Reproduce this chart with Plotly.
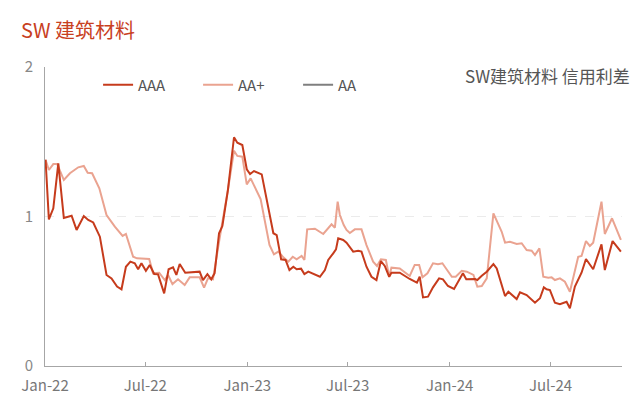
import plotly.graph_objects as go

# ---- data ----
aaa_dates = ["2022-01-02","2022-01-08","2022-01-16","2022-01-25","2022-02-04","2022-02-18","2022-02-27","2022-03-12","2022-03-20","2022-03-29",
             "2022-04-10","2022-04-22","2022-05-01","2022-05-11","2022-05-19","2022-05-27","2022-06-04","2022-06-12","2022-06-18","2022-06-24",
             "2022-07-02","2022-07-09","2022-07-17","2022-07-24","2022-08-04","2022-08-12","2022-08-20","2022-08-26","2022-09-01","2022-09-11",
             "2022-10-07","2022-10-13","2022-10-21","2022-10-28","2022-11-03","2022-11-11","2022-11-17","2022-11-27","2022-12-08","2022-12-14",
             "2022-12-23","2022-12-31","2023-01-06","2023-01-13","2023-01-27","2023-02-10","2023-02-17","2023-02-23","2023-03-03","2023-03-11",
             "2023-03-18","2023-03-25","2023-03-31","2023-04-08","2023-04-14","2023-04-21","2023-05-03","2023-05-12","2023-05-21","2023-05-27",
             "2023-06-05","2023-06-10","2023-06-14","2023-06-23","2023-06-29","2023-07-05","2023-07-11","2023-07-20","2023-07-26","2023-08-04",
             "2023-08-13","2023-08-22","2023-08-30","2023-09-06","2023-09-14","2023-09-18","2023-10-03","2023-10-21","2023-11-03","2023-11-08",
             "2023-11-14","2023-11-23","2023-12-02","2023-12-13","2023-12-20","2023-12-29","2024-01-09","2024-01-25","2024-01-31","2024-02-16",
             "2024-02-20","2024-02-28","2024-03-08","2024-03-20","2024-03-26","2024-04-10","2024-04-16","2024-05-01","2024-05-07","2024-05-19",
             "2024-06-03","2024-06-12","2024-06-19","2024-06-24","2024-06-30","2024-07-09","2024-07-18","2024-07-30","2024-08-05","2024-08-14",
             "2024-08-26","2024-09-03","2024-09-16","2024-10-01","2024-10-07","2024-10-21","2024-11-05"]
aaa_values = [1.38,0.98,1.055,1.356,0.99,1.005,0.91,1.003,0.977,0.96,
              0.865,0.609,0.586,0.531,0.513,0.664,0.698,0.687,0.647,0.687,
              0.637,0.676,0.615,0.613,0.486,0.647,0.66,0.609,0.682,0.624,
              0.631,0.575,0.615,0.58,0.62,0.888,0.936,1.177,1.53,1.494,
              1.478,1.316,1.284,1.304,1.282,1.021,0.888,0.876,0.714,0.709,
              0.642,0.664,0.647,0.651,0.615,0.631,0.609,0.597,0.642,0.709,
              0.754,0.78,0.854,0.843,0.825,0.798,0.765,0.771,0.765,0.664,
              0.597,0.575,0.702,0.669,0.597,0.624,0.624,0.582,0.557,0.597,
              0.459,0.464,0.526,0.586,0.58,0.535,0.515,0.62,0.58,0.582,
              0.575,0.604,0.631,0.682,0.653,0.468,0.497,0.448,0.493,0.475,
              0.423,0.453,0.526,0.513,0.508,0.423,0.413,0.43,0.386,0.531,
              0.624,0.716,0.647,0.814,0.642,0.836,0.765]

aap_dates = ["2022-01-02","2022-01-08","2022-01-16","2022-01-23","2022-02-04","2022-02-15","2022-03-02","2022-03-12","2022-03-19","2022-03-27",
             "2022-04-09","2022-04-22","2022-05-07","2022-05-21","2022-05-27","2022-06-09","2022-06-16","2022-07-08","2022-07-15","2022-07-26",
             "2022-08-05","2022-08-11","2022-08-19","2022-08-29","2022-09-10","2022-09-19","2022-10-07","2022-10-15","2022-10-22","2022-10-31",
             "2022-11-12","2022-11-18","2022-11-27","2022-12-08","2022-12-14","2022-12-23","2022-12-31","2023-01-07","2023-01-25","2023-02-10",
             "2023-02-18","2023-02-26","2023-03-07","2023-03-16","2023-03-24","2023-03-31","2023-04-09","2023-04-14","2023-04-19","2023-05-03",
             "2023-05-18","2023-06-02","2023-06-08","2023-06-13","2023-06-17","2023-06-24","2023-06-29","2023-07-05","2023-07-14","2023-07-26",
             "2023-08-04","2023-08-16","2023-08-23","2023-08-30","2023-09-08","2023-09-14","2023-09-18","2023-10-03","2023-10-21","2023-10-30",
             "2023-11-07","2023-11-13","2023-11-22","2023-12-02","2023-12-11","2023-12-19","2023-12-26","2024-01-05","2024-01-12","2024-01-23",
             "2024-02-01","2024-02-13","2024-02-20","2024-02-28","2024-03-08","2024-03-20","2024-04-04","2024-04-10","2024-04-19","2024-05-01",
             "2024-05-10","2024-05-19","2024-05-28","2024-06-03","2024-06-11","2024-06-18","2024-06-27","2024-07-03","2024-07-09","2024-07-18",
             "2024-07-27","2024-08-05","2024-08-20","2024-08-26","2024-09-03","2024-09-10","2024-09-16","2024-10-01","2024-10-07","2024-10-20",
             "2024-11-05"]
aap_values = [1.38,1.311,1.351,1.351,1.244,1.289,1.329,1.338,1.293,1.289,
              1.189,1.01,0.932,0.87,0.883,0.731,0.72,0.716,0.62,0.624,
              0.575,0.609,0.548,0.58,0.542,0.593,0.593,0.524,0.586,0.58,
              0.854,0.977,1.177,1.44,1.405,1.40,1.215,1.255,1.117,0.809,
              0.747,0.765,0.727,0.698,0.731,0.714,0.736,0.709,0.914,0.918,
              0.883,0.948,0.925,1.099,1.01,0.943,0.91,0.89,0.914,0.914,
              0.809,0.698,0.669,0.714,0.709,0.597,0.658,0.653,0.602,0.676,
              0.676,0.593,0.62,0.687,0.68,0.687,0.647,0.597,0.597,0.637,
              0.631,0.609,0.531,0.535,0.586,1.021,0.898,0.825,0.831,0.816,
              0.821,0.776,0.771,0.742,0.787,0.597,0.591,0.593,0.575,0.586,
              0.564,0.497,0.731,0.736,0.836,0.803,0.825,1.099,0.883,0.988,
              0.843]

# AA series has no visible data in the reference (legend entry only)
aa_dates = ["2022-01-02"]
aa_values = [None]

tick_dates = ["2022-01-01","2022-07-01","2023-01-01","2023-07-01","2024-01-01","2024-07-01"]
tick_labels = ["Jan-22","Jul-22","Jan-23","Jul-23","Jan-24","Jul-24"]

FONT = "Noto Sans CJK SC"
C_AAA = "#C63B1C"
C_AAP = "#EAA390"
C_AA = "#7F7F7F"

fig = go.Figure()
fig.add_trace(go.Scatter(x=aap_dates, y=aap_values, name="AA+", mode="lines", legendrank=2,
                         line=dict(color=C_AAP, width=2)))
fig.add_trace(go.Scatter(x=aaa_dates, y=aaa_values, name="AAA", mode="lines", legendrank=1,
                         line=dict(color=C_AAA, width=2)))
fig.add_trace(go.Scatter(x=aa_dates, y=aa_values, name="AA", mode="lines", legendrank=3,
                         line=dict(color=C_AA, width=2)))

fig.update_layout(
    width=640, height=399,
    margin=dict(l=45, r=18, t=67, b=33, autoexpand=False),
    paper_bgcolor="white", plot_bgcolor="white",
    font=dict(family=FONT, size=15, color="#666666"),
    showlegend=True,
    title=dict(text="SW 建筑材料", x=21/640, xanchor="left", xref="container",
               y=1 - 31/399, yanchor="middle", yref="container",
               font=dict(family=FONT, size=20, color="#C8401E")),
    legend=dict(orientation="h", x=0.092, y=0.995, xanchor="left", yanchor="top",
                traceorder="normal", entrywidth=55, entrywidthmode="pixels",
                font=dict(family=FONT, size=15, color="#555555"),
                bgcolor="rgba(0,0,0,0)"),
    annotations=[
        dict(text="SW建筑材料 信用利差", xref="paper", yref="paper", x=1.017, y=0.97,
             xanchor="right", yanchor="middle", showarrow=False,
             font=dict(family=FONT, size=17, color="#555555")),
    ],
)
fig.update_xaxes(
    type="date", range=["2022-01-01", "2024-11-07"], automargin=False,
    tickvals=tick_dates, ticktext=tick_labels,
    showgrid=False, zeroline=False,
    showline=True, linecolor="#A6A6A6", linewidth=1,
    ticks="inside", ticklen=4, tickcolor="#A6A6A6",
    ticklabelstandoff=6,
    tickfont=dict(family=FONT, size=15, color="#777777"),
)
fig.update_yaxes(
    range=[0, 2], tickvals=[0, 1, 2], automargin=False,
    showgrid=True, gridcolor="#EBEBEB", griddash="dash", gridwidth=1,
    zeroline=False,
    showline=True, linecolor="#A6A6A6", linewidth=1,
    ticks="", ticklabelstandoff=8,
    tickfont=dict(family=FONT, size=15, color="#888888"),
)

fig.write_html("out.html", config={"displayModeBar": False},
               post_script="document.body.style.margin='0';")
